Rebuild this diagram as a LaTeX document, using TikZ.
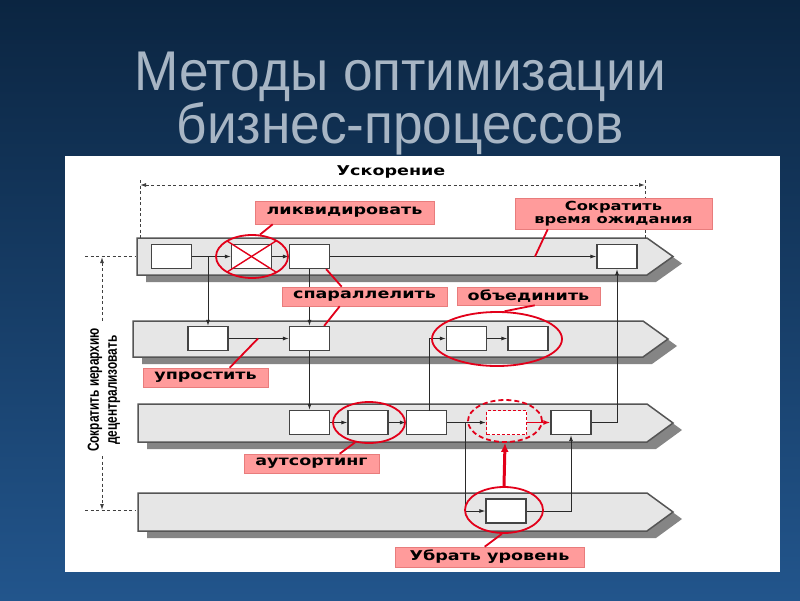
\documentclass[tikz,border=0pt]{standalone}
\usepackage{fontspec}
\setmainfont{Liberation Sans}
\newfontfamily\titlefont{Liberation Sans}[FakeStretch=0.95]
\newfontfamily\lblfont{DejaVu Sans}[FakeStretch=1.3]
\newfontfamily\vfont{Liberation Sans}[FakeStretch=0.74]
\usetikzlibrary{arrows.meta,shapes.geometric}
\definecolor{bgtop}{HTML}{0B2541}
\definecolor{bgmid}{HTML}{1A4574}
\definecolor{bgbot}{HTML}{22558C}
\definecolor{titlec}{HTML}{A7B5C4}
\definecolor{lanefill}{HTML}{E6E6E6}
\definecolor{lanedraw}{HTML}{555555}
\definecolor{shadowc}{HTML}{858585}
\definecolor{boxc}{HTML}{444444}
\definecolor{linec}{HTML}{2A2A2A}
\definecolor{dimc}{HTML}{404040}
\definecolor{redc}{HTML}{E2001A}
\definecolor{pinkc}{HTML}{FF9B9B}
\definecolor{pinkd}{HTML}{E87C7C}
\newcommand\proclane[5]{%
  \fill[shadowc] (#1+9,#2+7) -- (#4+9,#2+7) -- (#5+9,{(#2+#3)/2+7}) -- (#4+9,#3+7) -- (#1+9,#3+7) -- cycle;
  \draw[lanestyle] (#1,#2) -- (#4,#2) -- (#5,{(#2+#3)/2}) -- (#4,#3) -- (#1,#3) -- cycle;}
\begin{document}
\begin{tikzpicture}[x=1pt,y=-1pt,
  lanestyle/.style={draw=lanedraw,fill=lanefill,line width=1.5pt,line join=miter},
  box/.style={draw=boxc,fill=white,line width=1.3pt,minimum width=40pt,minimum height=24pt,inner sep=0pt},
  conn/.style={draw=linec,line width=0.9pt,-{Latex[length=6pt,width=4pt]}},
  dim/.style={draw=dimc,line width=1pt,dash pattern=on 3pt off 2.5pt},
  dimtip/.style={{Latex[length=6pt,width=4pt]}-},
  ell/.style={ellipse,draw=redc,line width=1.8pt,inner sep=0pt},
  redl/.style={draw=redc,line width=1.8pt},
  lbl/.style={fill=pinkc,draw=pinkd,line width=0.6pt,inner sep=0pt,text=black,
    font=\lblfont\bfseries\fontsize{13.5}{14}\selectfont},
  titlestyle/.style={font=\titlefont\fontsize{56}{53}\selectfont,align=center,inner sep=0pt,text=titlec}
]
\useasboundingbox (0,0) rectangle (800,600);
% background
\shade[top color=bgtop,middle color=bgmid,bottom color=bgbot] (0,0) rectangle (800,600);
% title
\node[titlestyle] (title) at (400,104) {Методы оптимизации\\бизнес-процессов};
% panel
\fill[white] (65,156) rectangle (780,572);
% lanes
\proclane{137}{238}{275}{647}{673}
\proclane{133}{321}{357}{643}{668}
\proclane{138}{404}{442}{647}{673}
\proclane{138}{493}{531}{647}{673}
% dimension lines (top)
\coordinate (tlv1) at (140,180); \coordinate (tlv2) at (140,238);
\coordinate (trv1) at (645,180); \coordinate (trv2) at (645,238);
\coordinate (tl) at (140,185); \coordinate (tr) at (645,185);
\draw[dim] (tlv1) -- (tlv2);
\draw[dim] (trv1) -- (trv2);
\draw[dim,{Latex[length=6pt,width=4pt]}-{Latex[length=6pt,width=4pt]}] (tl) -- (tr);
\node[font=\lblfont\bfseries\fontsize{13.5}{14}\selectfont,inner sep=0pt] (usk) at (391,172) {Ускорение};
% dimension lines (left)
\coordinate (lh1a) at (85,256.5); \coordinate (lh1b) at (136,256.5);
\coordinate (lh2a) at (85,510); \coordinate (lh2b) at (136,510);
\coordinate (lv1) at (102,257); \coordinate (lv2) at (102,322);
\coordinate (lv3) at (102,456); \coordinate (lv4) at (102,510);
\draw[dim] (lh1a) -- (lh1b);
\draw[dim] (lh2a) -- (lh2b);
\draw[dim,dimtip] (lv1) -- (lv2);
\draw[dim,-{Latex[length=6pt,width=4pt]}] (lv3) -- (lv4);
\node[rotate=90,align=center,inner sep=0pt,font=\vfont\bfseries\fontsize{16}{18}\selectfont] (vt) at (104,390)
  {Сократить иерархию\\децентрализовать};
% boxes
\node[box] (A) at (171.5,256.5) {};
\node[box] (B) at (251.5,256.5) {};
\node[box] (C) at (309.5,256.5) {};
\node[box] (D) at (617,256.5) {};
\node[box] (E) at (208,338.5) {};
\node[box] (F) at (309.5,338.5) {};
\node[box] (G) at (466.5,338.5) {};
\node[box] (H) at (528,338.5) {};
\node[box] (I) at (309.5,422.5) {};
\node[box] (J) at (368,422.5) {};
\node[box] (K) at (426.5,422.5) {};
\node[box,draw=redc,line width=1.2pt,dash pattern=on 3pt off 2pt] (L) at (506.5,422.5) {};
\node[box] (M) at (571,422.5) {};
\node[box] (N) at (506,511) {};
% connectors
\draw[conn] (A) -- (B);
\draw[conn] (B) -- (C);
\draw[conn] (C) -- (D);
\coordinate (ab) at (208,256.5);
\draw[conn] (ab) -- (E);
\draw[conn] (C) -- (F);
\draw[conn] (E) -- (F);
\draw[conn] (F) -- (I);
\draw[conn] (I) -- (J);
\draw[conn] (J) -- (K);
\coordinate (kt) at (429,410.5);
\draw[conn] (kt) |- (G.west);
\draw[conn] (G) -- (H);
\draw[conn] (K) -- (L);
\coordinate (kl) at (465,422.5);
\draw[conn] (kl) |- (N.west);
\draw[redc,line width=1.5pt,-{Latex[length=7pt,width=5pt]}] (L) -- (M);
\draw[conn] (N.east) -| (M.south);
\draw[conn] (M.east) -| (D.south);
% red cross
\draw[redl,line width=1.4pt] ([xshift=-4pt,yshift=3pt]B.north west) -- ([xshift=4pt,yshift=-3pt]B.south east);
\draw[redl,line width=1.4pt] ([xshift=4pt,yshift=3pt]B.north east) -- ([xshift=-4pt,yshift=-3pt]B.south west);
% ellipses
\node[ell,minimum width=72pt,minimum height=43pt] (e1) at (252,256.5) {};
\node[ell,minimum width=130pt,minimum height=54pt] (e2) at (497,339) {};
\node[ell,minimum width=72pt,minimum height=41pt] (e3) at (369,422.5) {};
\node[ell,dash pattern=on 5pt off 3pt,minimum width=74pt,minimum height=42pt] (e4) at (505,421) {};
\node[ell,minimum width=78pt,minimum height=46pt] (e5) at (504,510) {};
% thick red arrow
\draw[redc,line width=3pt,-{Latex[length=9pt,width=8pt]}] (e5.north) -- (e4.south);
% labels
\node[lbl,minimum width=179pt,minimum height=23pt] (lk) at (344.5,212.5) {ликвидировать};
\node[lbl,minimum width=197pt,minimum height=31pt,align=center,
  font=\lblfont\bfseries\fontsize{12.5}{12.5}\selectfont] (sk) at (613.5,213.5) {Сократить\\время ожидания};
\node[lbl,minimum width=165pt,minimum height=19pt] (sp) at (364.5,296.5) {спараллелить};
\node[lbl,minimum width=143pt,minimum height=18pt] (ob) at (528.5,296) {объединить};
\node[lbl,minimum width=125pt,minimum height=19pt] (up) at (205.5,377.5) {упростить};
\node[lbl,minimum width=135pt,minimum height=19pt] (au) at (311.5,463.5) {аутсортинг};
\node[lbl,minimum width=189pt,minimum height=20pt] (ub) at (489.5,557) {Убрать уровень};
% pointers
\draw[redl] ([xshift=18pt]lk.south west) -- (e1.70);
\coordinate (skp) at (535,256.5);
\draw[redl] ([xshift=33pt]sk.south west) -- (skp);
\draw[redl] ([xshift=60pt]sp.north west) -- ([xshift=-4pt]C.south east);
\draw[redl] ([xshift=58pt]sp.south west) -- ([xshift=-6pt]F.north east);
\draw[redl] ([xshift=78pt]ob.south west) -- (e2.75);
\coordinate (upp) at (258,338.5);
\draw[redl] ([xshift=87pt]up.north west) -- (upp);
\draw[redl] ([xshift=96pt]au.north west) -- (e3.235);
\draw[redl] ([xshift=90pt]ub.north west) -- (e5.265);
\end{tikzpicture}
\end{document}
